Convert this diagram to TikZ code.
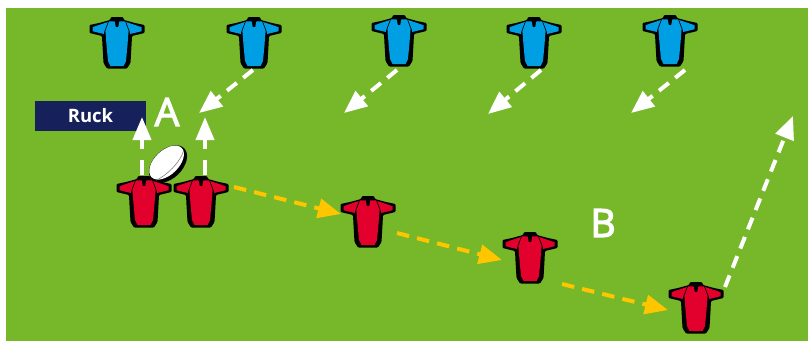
\documentclass[tikz,border=0pt]{standalone}
\usepackage{fontspec}
\setmainfont{Open Sans}
\newfontfamily\semifont[FakeBold=3]{Open Sans}
\usetikzlibrary{arrows.meta}
\definecolor{pitch}{HTML}{76B82A}
\definecolor{navy}{HTML}{16215B}
\definecolor{shirtblue}{HTML}{009FE3}
\definecolor{shirtred}{HTML}{E2002D}
\definecolor{runyellow}{HTML}{FFC600}
\tikzset{
  x=1pt,y=-1pt,
  shirt/.pic={
    \fill[black,rounded corners=1pt] (-6,0)--(6,0)--(7,3)--(18,6)--(27.5,8)--(27.5,16)--(15,19)--(14.5,29)--(13.5,46)--(10,51.5)--(-10,51.5)--(-13.5,46)--(-14.5,29)--(-15,19)--(-27.5,16)--(-27.5,8)--(-18,6)--(-7,3)--cycle;
    \fill[pic actions] (-8,4.4)--(-2.4,4.4)--(-1.2,10)--(1.2,10)--(2.4,4.4)--(8,4.4)--(11.6,14)--(10.4,29)--(9,44)--(6.5,49)--(-6.5,49)--(-9,44)--(-10.4,29)--(-11.6,14)--cycle;
    \fill[pic actions] (-24.5,10.2)--(-17,7.6)--(-9.2,5)--(-12.6,14)--(-13.2,17)--(-24.5,14.2)--cycle;
    \fill[pic actions] (24.5,10.2)--(17,7.6)--(9.2,5)--(12.6,14)--(13.2,17)--(24.5,14.2)--cycle;
  },
  run/.style={line width=4pt,dash pattern=on 12.5pt off 8.2pt,
    -{Triangle[length=23pt,width=19pt,fill=#1]},draw=#1},
  runup/.style={line width=4pt,dash pattern=on 15pt off 11pt,
    -{Triangle[length=23pt,width=18pt,fill=white]},draw=white},
  bigletter/.style={text=white,font=\fontsize{39}{39}\semifont,inner sep=0pt,anchor=center},
}
\begin{document}
\begin{tikzpicture}
\useasboundingbox (0,0) rectangle (808,341);
\fill[pitch] (6,8) rectangle (808,341);
\node[fill=navy,minimum width=111pt,minimum height=30pt,inner sep=0pt,text=white,font=\fontsize{18.5}{19}\selectfont\bfseries] (ruck) at (90.5,116) {Ruck\hspace{6pt}};
\node[bigletter] (labelA) at (167,112) {A};
\node[bigletter] (labelB) at (603,223) {B};
% shirts
\foreach \n/\x/\y in {b1/117/17,b2/254/17,b3/399/15,b4/534/17,b5/670/15}
  {\coordinate (\n) at (\x,\y); \pic[fill=shirtblue] at (\n) {shirt};}
% ball
\begin{scope}[shift={(168,164)},rotate=44]
  \fill[black] (0,0) ellipse [x radius=22.5,y radius=14.5];
  \fill[white] (0,-2) ellipse [x radius=21,y radius=12.2];
  \draw[gray,line width=0.6pt] (-20,3.5) .. controls (-8,7.5) and (10,7) .. (20,1.5);
\end{scope}
\foreach \n/\x/\y in {r1/144/176,r2/201/176,r3/368/196,r4/530/232,r5/696/282}
  {\coordinate (\n) at (\x,\y); \pic[fill=shirtred] at (\n) {shirt};}
% run ends
\foreach \n/\x/\y in {
  ys1/234/187,yt1/341/214,ys2/397/233,yt2/502/260,ys3/562/284,yt3/668/310,
  us1/142/175,ut1/142/117,us2/205/175,ut2/205/117,
  ds1/253/70,dt1/199/113,ds2/397/70,dt2/344/113,ds3/541/70,dt3/488/114,ds4/685/70,dt4/631/113,
  ls/725/287,lt/793/116}
  {\coordinate (\n) at (\x,\y);}
\draw[run=runyellow] (ys1) -- (yt1);
\draw[run=runyellow] (ys2) -- (yt2);
\draw[run=runyellow] (ys3) -- (yt3);
\draw[runup] (us1) -- (ut1);
\draw[runup] (us2) -- (ut2);
\draw[run=white] (ds1) -- (dt1);
\draw[run=white] (ds2) -- (dt2);
\draw[run=white] (ds3) -- (dt3);
\draw[run=white] (ds4) -- (dt4);
\draw[run=white] (ls) -- (lt);
\end{tikzpicture}
\end{document}
